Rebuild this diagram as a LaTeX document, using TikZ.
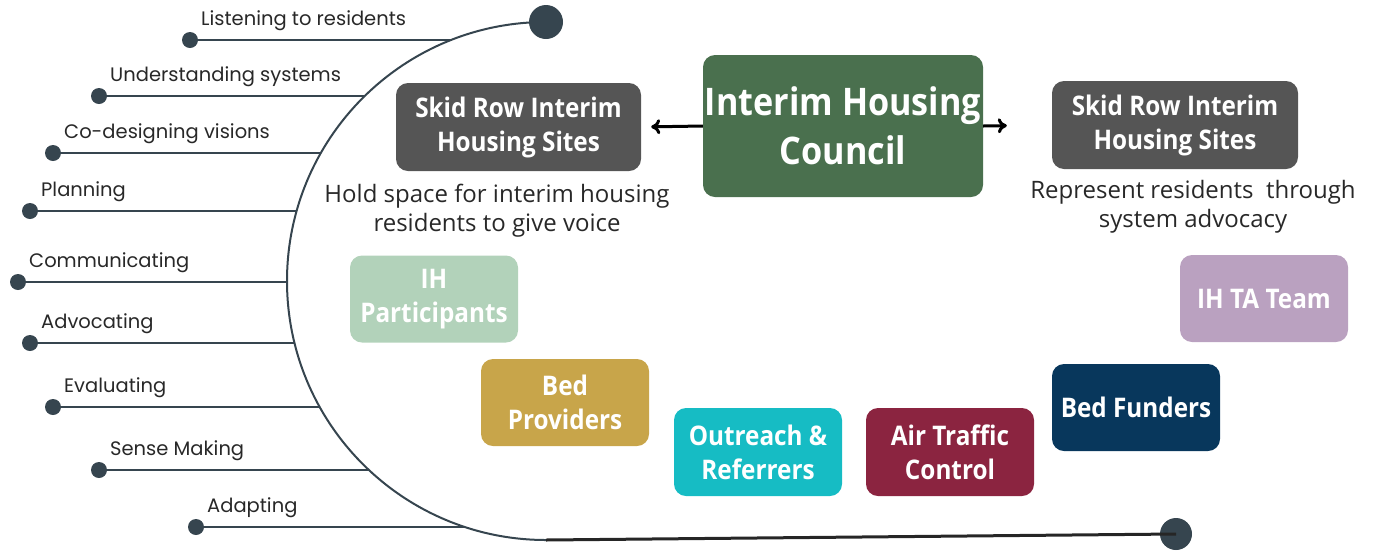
\documentclass[tikz,border=0pt]{standalone}
\usepackage{fontspec}
\setmainfont{Open Sans}
\newfontfamily\lblfont{Poppins}
\newfontfamily\boxfont{Open Sans}[FakeStretch=0.9]
\usetikzlibrary{arrows.meta}
\definecolor{slate}{RGB}{54,69,79}
\definecolor{councilgreen}{RGB}{74,112,78}
\definecolor{skidgray}{RGB}{85,85,85}
\definecolor{ihpgreen}{RGB}{178,210,186}
\definecolor{bedgold}{RGB}{200,165,74}
\definecolor{outteal}{RGB}{22,188,196}
\definecolor{atcred}{RGB}{139,36,64}
\definecolor{fundnavy}{RGB}{8,55,92}
\definecolor{talilac}{RGB}{186,161,192}
\definecolor{txtdark}{RGB}{40,40,40}
\tikzset{
  rolebox/.style={rounded corners=12pt, text=white, align=center, inner sep=0pt,
    minimum width=168pt, minimum height=87pt,
    font=\boxfont\bfseries\fontsize{27}{34}\selectfont},
  skidbox/.style={rolebox, fill=skidgray, minimum width=245pt, minimum height=88pt},
  desc/.style={align=center, text=txtdark, font=\fontsize{24}{29.5}\selectfont},
  stepdot/.style={circle, fill=slate, minimum size=16pt, inner sep=0pt},
  steplbl/.style={anchor=west, inner sep=0pt, text=txtdark, font=\lblfont\fontsize{19.5}{22}\selectfont}
}
\begin{document}
\begin{tikzpicture}[x=1pt, y=-1pt]
    \useasboundingbox (0,0) rectangle (1376,550);

    % Dibuja el arco y sus extremos
    \node[stepdot, minimum size=34pt] (top) at (546,22) {};
    \node[stepdot, minimum size=32pt] (bot) at (1176,534) {};
    \draw[slate, line width=2pt] (top.center) arc[start angle=90, end angle=270, radius=259pt];
    \draw[black!85, line width=3pt] (546,540) -- (bot.center);

    % Dibuja las ramas de la izquierda
    \foreach \y/\x/\txt [count=\i] in {40/190/Listening to residents, 96/99/Understanding systems,
        153/53/Co-designing visions, 211/30/Planning, 282/18/Communicating, 343/30/Advocating,
        407/53/Evaluating, 470/99/Sense Making, 527/196/Adapting}
    {
        \pgfmathsetmacro\xe{546-259*sqrt(1-((\y-281)/259)^2)}
        \node[stepdot] (d\i) at (\x,\y) {};
        \coordinate (e\i) at (\xe,\y);
        \draw[slate, line width=2.5pt] (d\i.center) -- (e\i);
        \node[steplbl] (l\i) at (\x+11,\y-19.5) {\txt};
    }

    % Dibuja el consejo y los sitios
    \node[rolebox, fill=councilgreen, minimum width=280pt, minimum height=142pt,
        font=\boxfont\bfseries\fontsize{38}{49}\selectfont] (council) at (843,126) {Interim Housing\\Council};
    \node[skidbox] (skidL) at (518.5,127) {Skid Row Interim\\Housing Sites};
    \node[skidbox, minimum width=246pt] (skidR) at (1175,125) {Skid Row Interim\\Housing Sites};
    \draw[-{To[length=9pt,width=15pt]}, line width=3pt, shorten >=10pt] (council.west) -- (skidL.east);
    \draw[-{To[length=9pt,width=15pt]}, line width=3pt, shorten >=45pt] (council.east) -- (skidR.west);
    \node[desc] (holdtxt) at (497,210.5) {Hold space for interim housing\\residents to give voice};
    \node[desc] (reptxt) at (1193,207) {Represent residents \ through\\system advocacy};

    % Dibuja los actores
    \node[rolebox, fill=ihpgreen] (ihp) at (434,299) {IH\\Participants};
    \node[rolebox, fill=bedgold] (bedp) at (565,402.5) {Bed\\Providers};
    \node[rolebox, fill=outteal, minimum height=88pt] (outr) at (758,452) {Outreach \&\\Referrers};
    \node[rolebox, fill=atcred, minimum height=88pt] (atc) at (950,452) {Air Traffic\\Control};
    \node[rolebox, fill=fundnavy] (bedf) at (1136,407.5) {Bed Funders};
    \node[rolebox, fill=talilac] (ihta) at (1264,298.5) {IH TA Team};
\end{tikzpicture}
\end{document}
